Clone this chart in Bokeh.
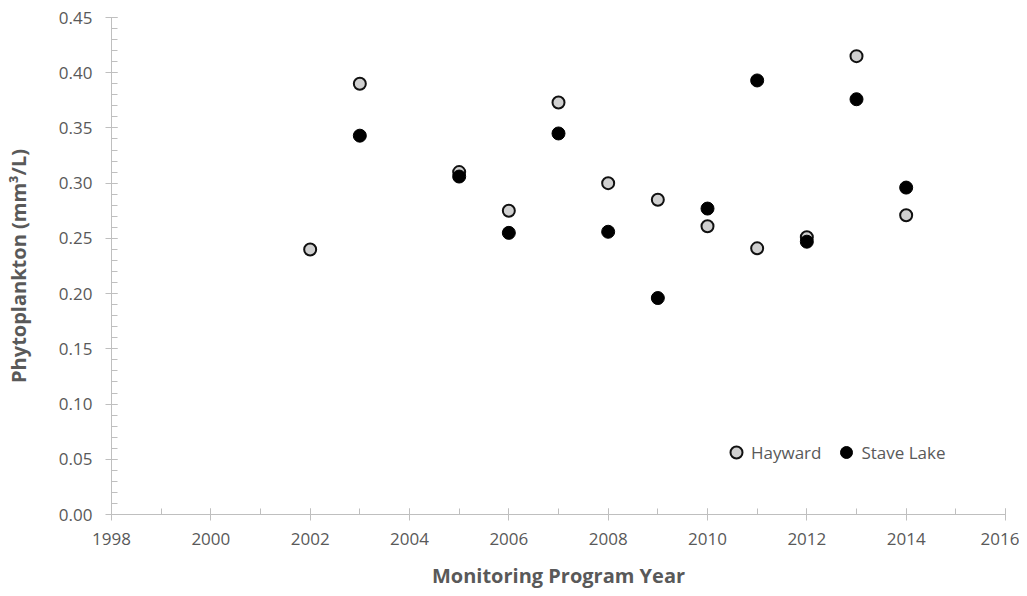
from bokeh.plotting import figure
from bokeh.models import Range1d, SingleIntervalTicker, Legend, LegendItem, NumeralTickFormatter
from bokeh.embed import file_html
from bokeh.resources import INLINE

hayward_years = [2002, 2003, 2005, 2006, 2007, 2008, 2009, 2010, 2011, 2012, 2013, 2014]
hayward_vals = [0.240, 0.390, 0.310, 0.275, 0.373, 0.300, 0.285, 0.261, 0.241, 0.251, 0.415, 0.271]
stave_years = [2003, 2005, 2006, 2007, 2008, 2009, 2010, 2011, 2012, 2013, 2014]
stave_vals = [0.343, 0.306, 0.255, 0.345, 0.256, 0.196, 0.277, 0.393, 0.247, 0.376, 0.296]

W, H = 1019, 592
p = figure(width=W, height=H, output_backend="svg", toolbar_location=None,
           x_range=Range1d(1998, 2016), y_range=Range1d(0, 0.45),
           min_border_left=111, min_border_right=14, min_border_top=17, min_border_bottom=78)
p.outline_line_color = None
p.xgrid.visible = False
p.ygrid.visible = False

FONT = "Open Sans"
GREY = "#595959"
AX = "#BFBFBF"

p.xaxis.ticker = SingleIntervalTicker(interval=2, num_minor_ticks=2)
p.yaxis.ticker = SingleIntervalTicker(interval=0.05, num_minor_ticks=5)
p.yaxis.formatter = NumeralTickFormatter(format="0.00")

for ax in (p.xaxis[0], p.yaxis[0]):
    ax.axis_line_color = AX
    ax.major_tick_line_color = AX
    ax.minor_tick_line_color = AX
    ax.major_tick_in = 6
    ax.major_tick_out = 6
    ax.minor_tick_in = 6
    ax.minor_tick_out = 0
    ax.major_label_text_font = FONT
    ax.major_label_text_font_size = "17px"
    ax.major_label_text_color = GREY
    ax.axis_label_text_font = FONT
    ax.axis_label_text_font_size = "20px"
    ax.axis_label_text_font_style = "bold"
    ax.axis_label_text_color = GREY

p.xaxis.axis_label = "Monitoring Program Year"
p.yaxis.axis_label = "Phytoplankton (mm\u00b3/L)"
p.xaxis.major_label_standoff = 12
p.xaxis.axis_label_standoff = 14
p.yaxis.major_label_standoff = 13
p.yaxis.axis_label_standoff = 24

r1 = p.scatter(hayward_years, hayward_vals, size=12, fill_color="#D0D0D0",
               line_color="#111111", line_width=2)
r2 = p.scatter(stave_years, stave_vals, size=13, fill_color="#000000",
               line_color="#000000", line_width=1)

legend = Legend(items=[LegendItem(label="Hayward", renderers=[r1]),
                       LegendItem(label="Stave Lake", renderers=[r2])],
                location=(610, 47), orientation="horizontal")
legend.border_line_color = None
legend.background_fill_alpha = 0
legend.padding = 0
legend.margin = 0
legend.spacing = 10
legend.glyph_width = 30
legend.glyph_height = 30
legend.label_standoff = -3
legend.label_text_font = FONT
legend.label_text_font_size = "17px"
legend.label_text_color = GREY
p.add_layout(legend, "center")

open("out.html", "w").write(file_html(p, INLINE))
